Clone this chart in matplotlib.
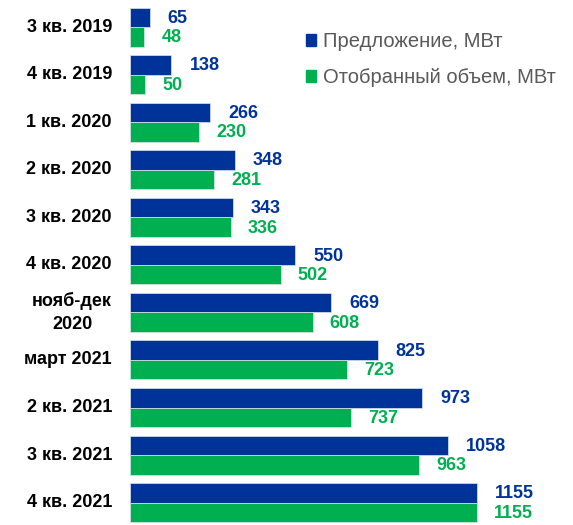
import matplotlib.pyplot as plt
from matplotlib.patches import Patch
import numpy as np

plt.rcParams['font.family'] = ['Liberation Sans', 'DejaVu Sans']

categories = ['3 кв. 2019', '4 кв. 2019', '1 кв. 2020', '2 кв. 2020', '3 кв. 2020',
              '4 кв. 2020', 'нояб-дек\n2020', 'март 2021', '2 кв. 2021', '3 кв. 2021',
              '4 кв. 2021']
offered = [65, 138, 266, 348, 343, 550, 669, 825, 973, 1058, 1155]
selected = [48, 50, 230, 281, 336, 502, 608, 723, 737, 963, 1155]

blue = '#003399'
green = '#00B050'
bar_h = 0.41

fig = plt.figure(figsize=(5.73, 5.25), dpi=100)
ax = fig.add_axes([130 / 573, 0, 443 / 573, 1])

y = np.arange(len(categories))
ax.barh(y - bar_h / 2, offered, height=bar_h, color=blue, edgecolor='#dce3f0', linewidth=0.5)
ax.barh(y + bar_h / 2, selected, height=bar_h, color=green, edgecolor='#dce3f0', linewidth=0.5)

for yi, v in zip(y, offered):
    ax.annotate(str(v), (v, yi - bar_h / 2), xytext=(18, -1), textcoords='offset pixels',
                ha='left', va='center', color=blue, fontsize=13, fontweight='bold')
for yi, v in zip(y, selected):
    ax.annotate(str(v), (v, yi + bar_h / 2), xytext=(17, -1), textcoords='offset pixels',
                ha='left', va='center', color=green, fontsize=13, fontweight='bold')

for yi, c in zip(y, categories):
    ax.annotate(c, (0, yi), xytext=(-18, 0), textcoords='offset pixels',
                ha='right', va='center', multialignment='center',
                fontsize=13, fontweight='bold', color='black', linespacing=1.45)

ax.set_xlim(0, 443 / 0.3004)
ax.set_ylim(10.47, -0.568)
ax.axis('off')

handles = [Patch(color=blue), Patch(color=green)]
fig.legend(handles, ['Предложение, МВт', 'Отобранный объем, МВт'],
           loc='upper left', bbox_to_anchor=(306 / 573, 1 - 32 / 525),
           frameon=False, fontsize=14.5, labelcolor='#595959',
           handlelength=0.5, handleheight=0.5, handletextpad=0.35,
           labelspacing=0.85, borderpad=0, borderaxespad=0)

fig.savefig('out.png', dpi=100)
